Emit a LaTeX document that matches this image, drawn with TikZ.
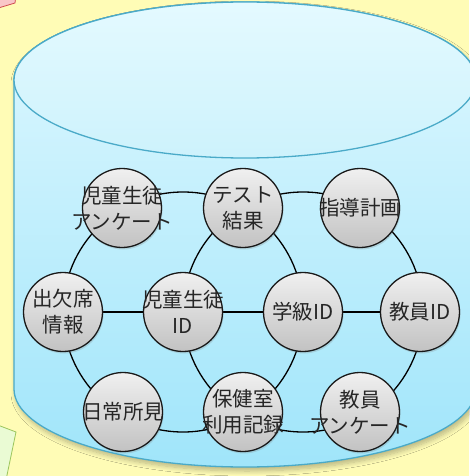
\documentclass[tikz,border=0pt]{standalone}
\usepackage{fontspec}
\newfontfamily\cjk{Noto Sans CJK JP}
\usetikzlibrary{shadows,shadows.blur}
\pgfdeclarelayer{bg}
\pgfdeclarelayer{lines}
\pgfsetlayers{bg,lines,main}
\definecolor{bgyellow}{HTML}{FFFCB6}
\definecolor{cylline}{HTML}{4AAAC8}
\definecolor{cyltop}{HTML}{DFF8FF}
\definecolor{cylbot}{HTML}{A0E5FA}
\definecolor{lidtop}{HTML}{E4FAFF}
\definecolor{lidbot}{HTML}{CDF2FC}
\definecolor{nodetop}{HTML}{F0F0F0}
\definecolor{nodebot}{HTML}{C2C2C2}
\definecolor{pinkfill}{HTML}{F9C6C8}
\definecolor{pinkline}{HTML}{CF4A50}
\definecolor{greenfill}{HTML}{EAFBD4}
\definecolor{greenline}{HTML}{9CC65E}
\tikzset{
  dot/.style={circle, minimum size=79pt, inner sep=0pt, draw=black!90, line width=1.3pt,
    top color=nodetop, bottom color=nodebot,
    drop shadow={opacity=0.25, shadow xshift=1pt, shadow yshift=-2pt}},
  lbl/.style={align=center, font=\cjk\fontsize{20.5}{26}\selectfont, text=black!85, inner sep=0pt},
  link/.style={draw=black, line width=1.3pt},
}
\begin{document}
\begin{tikzpicture}[x=1pt,y=-1pt]
\useasboundingbox (0,0) rectangle (469,476);
\begin{pgfonlayer}{bg}
\fill[bgyellow] (0,0) rectangle (469,476);
% sticky notes
\draw[pinkline, fill=pinkfill, line width=0.8pt] (-5,-5) -- (16,-5) -- (15,3) -- (-5,9) -- cycle;
\draw[greenline, fill=greenfill, line width=0.8pt] (-5,424) -- (16,432) -- (6,480) -- (-5,480) -- cycle;
% cylinder body
\path[blur shadow={shadow xshift=2pt, shadow yshift=-4pt, shadow opacity=28, shadow blur radius=5pt, shadow blur steps=8}]
  (14,80) -- (14,389) arc[start angle=180, end angle=0, x radius=231, y radius=78]
  -- (476,80) arc[start angle=0, end angle=-180, x radius=231, y radius=78] -- cycle;
\path[top color=cyltop, bottom color=cylbot, draw=cylline, line width=1.3pt]
  (14,80) -- (14,389) arc[start angle=180, end angle=0, x radius=231, y radius=78]
  -- (476,80) arc[start angle=0, end angle=-180, x radius=231, y radius=78] -- cycle;
\path[top color=lidtop, bottom color=lidbot, draw=cylline, line width=1.3pt]
  (245,80) ellipse[x radius=231, y radius=78];
\end{pgfonlayer}

% nodes
\node[dot] (sq)  at (122,208) {};
\node[dot] (tr)  at (243,208) {};
\node[dot] (gp)  at (360,208) {};
\node[dot] (att) at (63,312)  {};
\node[dot] (sid) at (183,312) {};
\node[dot] (cls) at (303,312) {};
\node[dot] (tid) at (420,312) {};
\node[dot] (obs) at (123,412) {};
\node[dot] (hr)  at (243,412) {};
\node[dot] (tq)  at (360,412) {};

\begin{pgfonlayer}{lines}
\draw[link] (sid) circle[radius=120];
\draw[link] (cls) circle[radius=120];
\draw[link] (att.center) -- (sid.center) -- (cls.center) -- (tid.center);
\end{pgfonlayer}

% labels
\node[lbl] (sqt)  at (sq)  {児童生徒\\アンケート};
\node[lbl] (trt)  at (tr)  {テスト\\結果};
\node[lbl] (gpt)  at (gp)  {指導計画};
\node[lbl] (attt) at (att) {出欠席\\情報};
\node[lbl] (sidt) at (sid) {児童生徒\\ID};
\node[lbl] (clst) at (cls) {学級ID};
\node[lbl] (tidt) at (tid) {教員ID};
\node[lbl] (obst) at (obs) {日常所見};
\node[lbl] (hrt)  at (hr)  {保健室\\利用記録};
\node[lbl] (tqt)  at (tq)  {教員\\アンケート};
\end{tikzpicture}
\end{document}
